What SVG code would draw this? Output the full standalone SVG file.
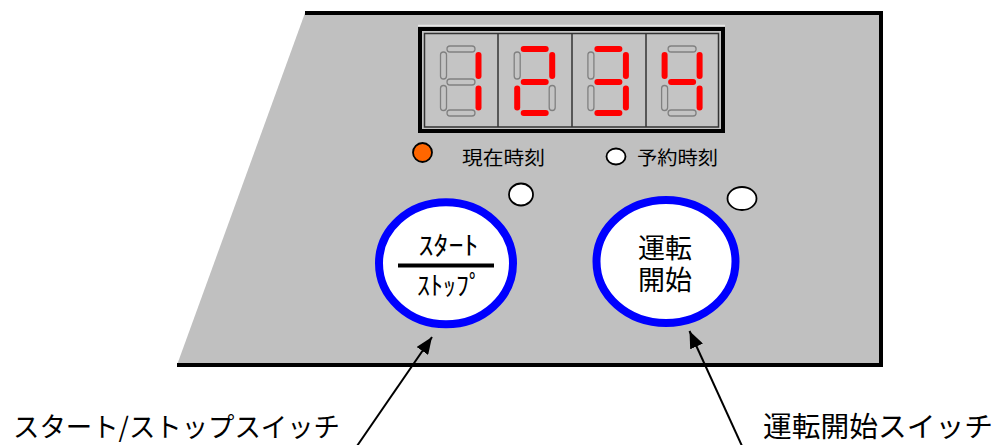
<svg xmlns="http://www.w3.org/2000/svg" xmlns:xlink="http://www.w3.org/1999/xlink" width="1001" height="445" viewBox="0 0 1001 445">
<style>
.jp{font-family:"Noto Sans CJK JP","Noto Sans",sans-serif;fill:#000}
.jpt{font-family:"Liberation Sans","Noto Sans CJK JP",sans-serif;fill:#000}
.off{fill:none;stroke:#808080;stroke-width:1.3}
.on{fill:#ff0000;stroke:none}
.btn{fill:#ffffff;stroke:#0000ff;stroke-width:8}
.led{stroke:#000;stroke-width:1.8}
.arrow{stroke:#000;stroke-width:2;fill:none;marker-end:url(#ah)}
</style>
<defs>
<marker id="ah" markerUnits="userSpaceOnUse" markerWidth="18" markerHeight="14" refX="17" refY="7" orient="auto">
<path d="M0,0 L17,7 L0,14 z" fill="#000"/>
</marker>
<rect id="sa" x="7" y="0.5" width="28" height="6" rx="3"/>
<rect id="sb" x="35.5" y="6.5" width="6" height="27" rx="3"/>
<rect id="sc" x="35.5" y="40" width="6" height="25" rx="3"/>
<rect id="sd" x="7" y="64.5" width="28" height="6" rx="3"/>
<rect id="se" x="0.5" y="40" width="6" height="25" rx="3"/>
<rect id="sf" x="0.5" y="6.5" width="6" height="27" rx="3"/>
<rect id="sg" x="7" y="33.5" width="28" height="6" rx="3"/>
</defs>
<rect width="1001" height="445" fill="#ffffff"/>
<g id="panel">
<polygon points="305,13 881,13 881,365 177,365" fill="#c0c0c0"/>
<path d="M305,13 H881 V365 H177" fill="none" stroke="#000" stroke-width="4"/>
</g>
<g id="display">
<line x1="418" y1="25.5" x2="725" y2="25.5" stroke="#e6e6e6" stroke-width="1.5"/>
<rect x="420" y="29" width="303" height="102" fill="#c4c4c4" stroke="#000" stroke-width="4"/>
<rect x="424.5" y="33.5" width="294" height="93.5" fill="#c4c4c4" stroke="#333" stroke-width="1.5"/>
<line x1="498" y1="33.5" x2="498" y2="127" stroke="#333" stroke-width="1.5"/>
<line x1="572" y1="33.5" x2="572" y2="127" stroke="#333" stroke-width="1.5"/>
<line x1="646" y1="33.5" x2="646" y2="127" stroke="#333" stroke-width="1.5"/>
<g id="digit1" transform="translate(440,45.5)">
<use xlink:href="#sa" class="off"/><use xlink:href="#sd" class="off"/><use xlink:href="#se" class="off"/><use xlink:href="#sf" class="off"/><use xlink:href="#sg" class="off"/>
<use xlink:href="#sb" class="on"/><use xlink:href="#sc" class="on"/>
</g>
<g id="digit2" transform="translate(513.7,45.5)">
<use xlink:href="#sc" class="off"/><use xlink:href="#sf" class="off"/>
<use xlink:href="#sa" class="on"/><use xlink:href="#sb" class="on"/><use xlink:href="#sg" class="on"/><use xlink:href="#se" class="on"/><use xlink:href="#sd" class="on"/>
</g>
<g id="digit3" transform="translate(587.4,45.5)">
<use xlink:href="#se" class="off"/><use xlink:href="#sf" class="off"/>
<use xlink:href="#sa" class="on"/><use xlink:href="#sb" class="on"/><use xlink:href="#sg" class="on"/><use xlink:href="#sc" class="on"/><use xlink:href="#sd" class="on"/>
</g>
<g id="digit4" transform="translate(661.1,45.5)">
<use xlink:href="#sa" class="off"/><use xlink:href="#sd" class="off"/><use xlink:href="#se" class="off"/>
<use xlink:href="#sf" class="on"/><use xlink:href="#sb" class="on"/><use xlink:href="#sg" class="on"/><use xlink:href="#sc" class="on"/>
</g>
</g>
<g id="led-current">
<circle cx="422.5" cy="152.5" r="9.5" fill="#ff6600" class="led"/>
<text x="462" y="165" font-size="19" textLength="83" lengthAdjust="spacingAndGlyphs" class="jp">現在時刻</text>
</g>
<g id="led-reserve">
<ellipse cx="616" cy="156.5" rx="9.5" ry="8" fill="#ffffff" class="led"/>
<text x="637" y="165" font-size="19" textLength="81" lengthAdjust="spacingAndGlyphs" class="jp">予約時刻</text>
</g>
<g id="led-start">
<ellipse cx="521" cy="194.5" rx="12" ry="11" fill="#ffffff" class="led"/>
</g>
<g id="led-run">
<ellipse cx="742" cy="198.5" rx="14.5" ry="11.5" fill="#ffffff" class="led"/>
</g>
<g id="btn-start">
<ellipse cx="446" cy="263.3" rx="67" ry="61" class="btn"/>
<text x="418.5" y="255" font-size="26" textLength="60" lengthAdjust="spacingAndGlyphs" class="jp">ｽﾀｰﾄ</text>
<line x1="398" y1="265.5" x2="494" y2="265.5" stroke="#000" stroke-width="4"/>
<text x="417" y="294.5" font-size="26" textLength="65" lengthAdjust="spacingAndGlyphs" class="jp">ｽﾄｯﾌﾟ</text>
</g>
<g id="btn-run">
<ellipse cx="666" cy="261.5" rx="69.5" ry="61.5" class="btn"/>
<text x="665" y="258" font-size="27" text-anchor="middle" class="jpt">運転</text>
<text x="665" y="290" font-size="27" text-anchor="middle" class="jpt">開始</text>
</g>
<g id="connectors">
<line x1="357" y1="446" x2="432" y2="337" class="arrow"/>
<line x1="742" y1="446" x2="689.5" y2="331" class="arrow"/>
</g>
<g id="label-start">
<text x="13" y="437" font-size="27" textLength="327" lengthAdjust="spacingAndGlyphs" class="jp">スタート/ストップスイッチ</text>
</g>
<g id="label-run">
<text x="763" y="437" font-size="28" textLength="230" lengthAdjust="spacingAndGlyphs" class="jp">運転開始スイッチ</text>
</g>
</svg>
